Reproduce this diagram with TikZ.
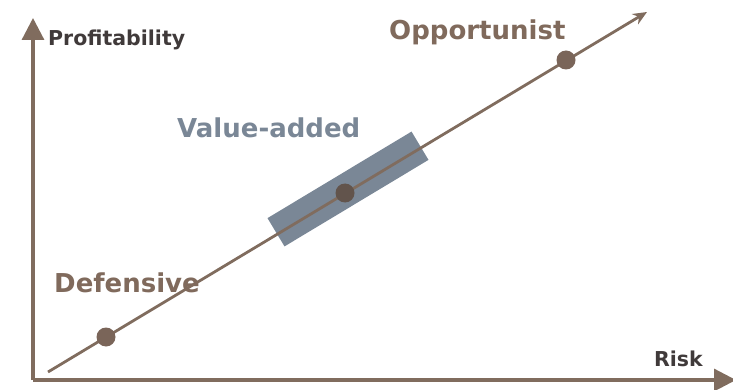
\documentclass[tikz,border=0pt]{standalone}
\usepackage{fontspec}
\setmainfont{DejaVu Sans}
\usetikzlibrary{arrows.meta}
\definecolor{linebrown}{RGB}{128,108,94}
\definecolor{labelbrown}{RGB}{128,106,92}
\definecolor{slate}{RGB}{122,135,150}
\definecolor{darktext}{RGB}{64,58,58}
\definecolor{dotbrown}{RGB}{122,101,89}
\tikzset{
  axis/.style={draw=linebrown, line width=3.2pt, -{Triangle[length=22pt,width=22pt]}},
  trend/.style={draw=linebrown, line width=2.8pt, -{Stealth[length=14pt,width=12pt]}},
  dot/.style={circle, fill=dotbrown, inner sep=0pt, minimum size=19pt},
  axislabel/.style={font=\bfseries\fontsize{20.5}{24}\selectfont, text=darktext, inner sep=0pt},
  bandlabel/.style={font=\bfseries\fontsize{26}{30}\selectfont, inner sep=0pt},
  band/.style={fill=slate, rotate=31, minimum width=168pt, minimum height=33pt, inner sep=0pt}
}
\begin{document}
\begin{tikzpicture}[x=1pt, y=-1pt]
  \useasboundingbox (0,0) rectangle (733,390);
  \clip (0,0) rectangle (733,390);
  % axes
  \coordinate (origin) at (33,380);
  \coordinate (ytip) at (33,18);
  \coordinate (xtip) at (736,380);
  \draw[axis] (origin) -- (ytip);
  \draw[axis] (origin) -- (xtip);
  \node[axislabel, anchor=base west] (ylab) at (48,46) {Profitability};
  \node[axislabel, anchor=base east] (xlab) at (703,366) {Risk};
  % value-added band
  \node[band] (vaband) at (348,189) {};
  % trend line
  \coordinate (tstart) at (48,372);
  \coordinate (tend) at (647,12);
  \draw[trend] (tstart) -- (tend);
  % strategy points
  \node[dot] (defdot) at (106,337) {};
  \node[dot, fill=dotbrown!90!slate!80!black] (vadot) at (345,193) {};
  \node[dot] (oppdot) at (566,60) {};
  % labels
  \node[bandlabel, text=labelbrown, anchor=base west] (deflab) at (54,292) {Defensive};
  \node[bandlabel, text=slate, anchor=base west] (valab) at (177,138) {Value-added};
  \node[bandlabel, text=labelbrown, anchor=base west] (opplab) at (389,40) {Opportunist};
\end{tikzpicture}
\end{document}
